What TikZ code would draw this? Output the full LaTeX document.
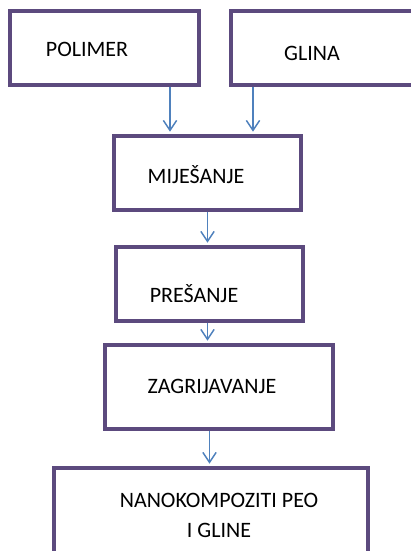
\documentclass[tikz,border=0pt]{standalone}
\usepackage{fontspec}
\setmainfont{Carlito}
\usetikzlibrary{arrows.meta,calc}

\definecolor{boxpurple}{HTML}{5C4A7E}
\definecolor{flowblue}{HTML}{4F81BD}

\begin{document}
\begin{tikzpicture}[
    x=0.75pt, y=-0.75pt,
    stage/.style={draw=boxpurple, line width=2.4pt, fill=white, minimum height=55.5pt},
    caption/.style={anchor=base, font=\fontsize{16.5}{22.5}\selectfont, align=center},
    flow/.style={draw=flowblue, line width=1.1pt, -{Straight Barb[length=7.5pt,width=10pt]}, shorten >=2pt}
  ]
    \path[use as bounding box, clip] (0,0) rectangle (411,551);
    \fill[white] (0,0) rectangle (411,551);
    % boxes
    \node[stage, minimum width=141.75pt] (polimer) at (104.5,48) {};
    \node[stage, minimum width=142.5pt] (glina) at (326,48) {};
    \node[stage, minimum width=140.25pt] (mix) at (207.5,173) {};
    \node[stage, minimum width=140.25pt] (press) at (209.5,284) {};
    \node[stage, minimum width=171pt, minimum height=63pt] (heat) at (219,387) {};
    \node[stage, minimum width=235.5pt, minimum height=75pt] (nano) at (211,518) {};
    % texts
    \node[caption] (polimer-t) at (87,56) {POLIMER};
    \node[caption] (glina-t) at (312,60) {GLINA};
    \node[caption] (mix-t) at (196,183) {MIJEŠANJE};
    \node[caption] (press-t) at (194,302) {PREŠANJE};
    \node[caption] (heat-t) at (212,393) {ZAGRIJAVANJE};
    \node[caption] (nano-t) at (219,537) {NANOKOMPOZITI PEO\\I GLINE};
    % arrows
    \coordinate (in1) at ($(polimer.south)+(65.5,0)$);
    \coordinate (in2) at ($(glina.south)+(-73,0)$);
    \draw[flow] (in1) -- (in1 |- mix.north);
    \draw[flow] (in2) -- (in2 |- mix.north);
    \draw[flow] (mix.south) -- (mix.south |- press.north);
    \draw[flow] (press.south -| mix.south) -- (mix.south |- heat.north);
    \draw[flow] (heat.south -| press.south) -- (press.south |- nano.north);
  \end{tikzpicture}
\end{document}
